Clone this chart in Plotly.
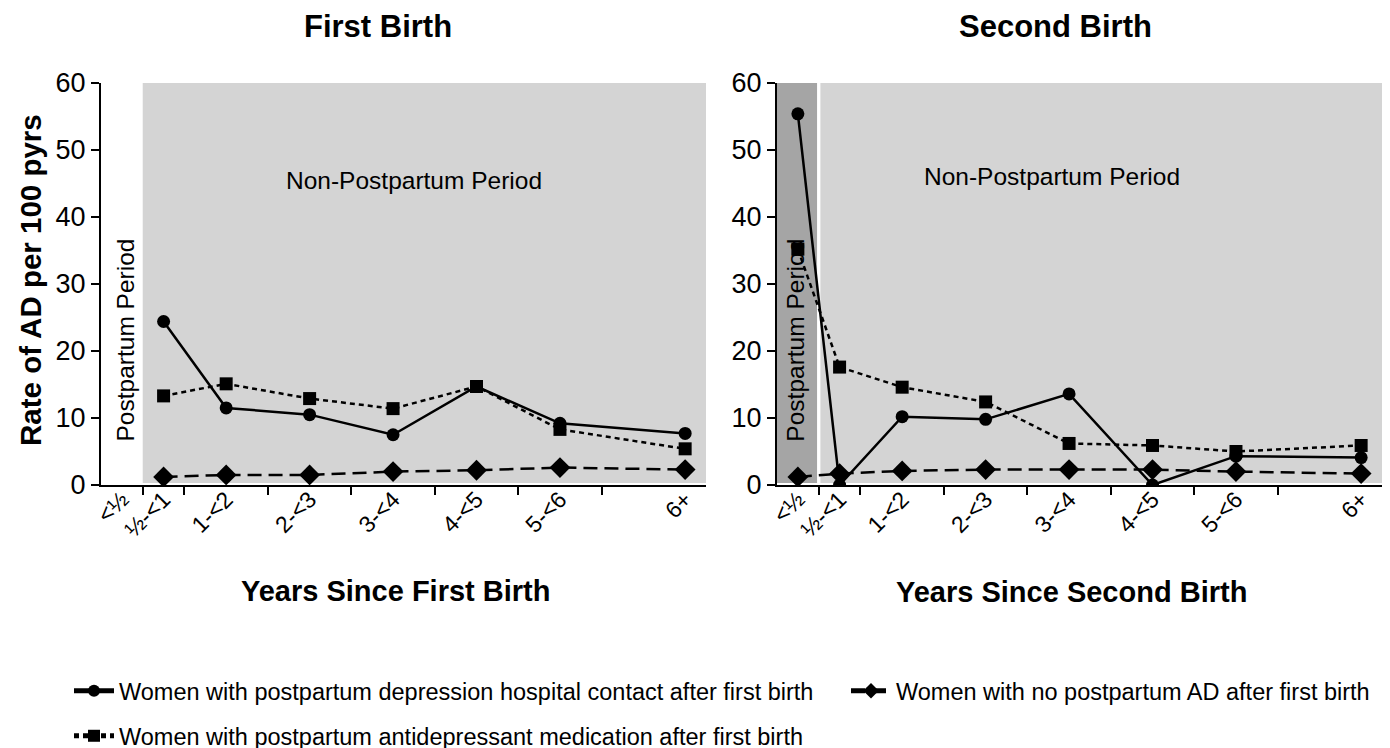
import plotly.graph_objects as go

# ---------------- data ----------------
label_pos = [0.25, 0.75, 1.5, 2.5, 3.5, 4.5, 5.5, 7.0]
label_text = ["<½", "½-<1", "1-<2", "2-<3", "3-<4", "4-<5", "5-<6", "6+"]
tick_pos = [0.5, 1, 2, 3, 4, 5, 6]

# First birth (no <½ value)
first_x = [0.75, 1.5, 2.5, 3.5, 4.5, 5.5, 7.0]
first_ppd = [24.4, 11.5, 10.5, 7.5, 14.7, 9.2, 7.7]
first_med = [13.3, 15.1, 12.9, 11.4, 14.7, 8.3, 5.4]
first_none = [1.2, 1.5, 1.5, 2.0, 2.2, 2.6, 2.3]

# Second birth
second_x = [0.25, 0.75, 1.5, 2.5, 3.5, 4.5, 5.5, 7.0]
second_ppd = [55.4, 0.0, 10.2, 9.8, 13.6, 0.0, 4.3, 4.1]
second_med = [35.2, 17.6, 14.6, 12.4, 6.2, 5.9, 5.0, 5.9]
second_none = [1.2, 1.7, 2.1, 2.3, 2.3, 2.3, 2.0, 1.7]

names = [
    "Women with postpartum depression hospital contact after first birth",
    "Women with postpartum antidepressant medication after first birth",
    "Women with no postpartum AD after first birth",
]

FONT = "Liberation Sans, Arial, sans-serif"
W, H = 1390, 748
OFF = 8  # page body margin

def px(x):
    return (x - OFF) / W

def py(y):
    return 1 - (y - OFF) / H

styles = [
    dict(symbol="circle", size=13, dash="solid", legend="legend"),
    dict(symbol="square", size=13, dash="5px,4px", legend="legend3"),
    dict(symbol="diamond", size=16, dash="14px,7px", legend="legend2"),
]

fig = go.Figure()

panels = [
    ("x", "y", first_x, [first_ppd, first_med, first_none], True),
    ("x2", "y2", second_x, [second_ppd, second_med, second_none], False),
]
for xa, ya, xs, series, show in panels:
    for i, (vals, st) in enumerate(zip(series, styles)):
        fig.add_trace(go.Scatter(
            x=xs, y=vals, xaxis=xa, yaxis=ya, mode="lines+markers",
            name=names[i], showlegend=show, legend=st["legend"],
            line=dict(color="black", width=2.5, dash=st["dash"]),
            marker=dict(color="black", symbol=st["symbol"], size=st["size"]),
        ))

XMAX = 7.25
axis_common = dict(
    range=[0, XMAX], showgrid=False, zeroline=False, showline=True,
    automargin=False,
    linecolor="black", linewidth=2, ticks="", tickvals=label_pos,
    ticktext=label_text, tickangle=-45, ticklabelstandoff=-10,
    tickfont=dict(family=FONT, size=23, color="black"),
    minor=dict(tickmode="array", tickvals=tick_pos, ticks="outside",
               ticklen=8, tickwidth=2, tickcolor="black", showgrid=False),
)
yaxis_common = dict(
    range=[0, 60], showgrid=False, zeroline=False, showline=True,
    automargin=False,
    linecolor="black", linewidth=2, ticks="outside", ticklen=8, tickwidth=2,
    tickcolor="black", tickvals=[0, 10, 20, 30, 40, 50, 60],
    tickfont=dict(family=FONT, size=27, color="black"),
)

LEG_FONT = dict(family=FONT, size=23.5, color="black")
leg_common = dict(xanchor="left", yanchor="middle", orientation="h",
                  font=LEG_FONT, bgcolor="rgba(0,0,0,0)", itemwidth=40,
                  itemsizing="constant")
ydom = [py(485), py(83)]
fig.update_layout(
    template="none",
    width=W, height=H, margin=dict(l=0, r=0, t=0, b=0, pad=0, autoexpand=False),
    paper_bgcolor="white", plot_bgcolor="white",
    font=dict(family=FONT, color="black"),
    xaxis=dict(domain=[px(101), px(706)], anchor="y", **axis_common),
    yaxis=dict(domain=ydom, anchor="x", **yaxis_common),
    xaxis2=dict(domain=[px(777), px(1382)], anchor="y2", **axis_common),
    yaxis2=dict(domain=ydom, anchor="x2", **yaxis_common),
    legend=dict(x=px(69), y=py(691), **leg_common),
    legend2=dict(x=px(846), y=py(691), **leg_common),
    legend3=dict(x=px(69), y=py(736), **leg_common),
)

# shaded periods
LIGHT = "#d4d4d4"
DARK = "#a5a5a5"
fig.add_shape(type="rect", xref="x", yref="y", x0=0.5, x1=XMAX, y0=0.3, y1=60,
              fillcolor=LIGHT, line_width=0, layer="below")
fig.add_shape(type="rect", xref="x2", yref="y2", x0=0, x1=0.48, y0=0.3, y1=60,
              fillcolor=DARK, line_width=0, layer="below")
fig.add_shape(type="rect", xref="x2", yref="y2", x0=0.52, x1=XMAX, y0=0.3, y1=60,
              fillcolor=LIGHT, line_width=0, layer="below")

ann_font = dict(family=FONT, size=24.5, color="black")
title_font = dict(family=FONT, size=31, color="black")
xt_font = dict(family=FONT, size=29, color="black")
annotations = [
    dict(text="Non-Postpartum Period", x=3.75, y=45.5, xref="x", yref="y", font=ann_font),
    dict(text="Non-Postpartum Period", x=3.3, y=46, xref="x2", yref="y2", font=ann_font),
    dict(text="Postpartum Period", x=0.29, y=21.6, xref="x", yref="y", textangle=-90, font=ann_font),
    dict(text="Postpartum Period", x=0.22, y=21.6, xref="x2", yref="y2", textangle=-90, font=ann_font),
    dict(text="<b>First Birth</b>", x=px(378), y=py(27), xref="paper", yref="paper", font=title_font),
    dict(text="<b>Second Birth</b>", x=px(1055), y=py(27), xref="paper", yref="paper", font=title_font),
    dict(text="<b>Years Since First Birth</b>", x=px(395), y=py(591), xref="paper", yref="paper", font=xt_font),
    dict(text="<b>Years Since Second Birth</b>", x=px(1071), y=py(592), xref="paper", yref="paper", font=xt_font),
    dict(text="<b>Rate of AD per 100 pyrs</b>", x=px(30), y=py(280), xref="paper", yref="paper",
         textangle=-90, font=dict(family=FONT, size=29.5, color="black")),
]
for a in annotations:
    a.update(showarrow=False, xanchor="center", yanchor="middle")
    fig.add_annotation(**a)

fig.write_html("out.html")
